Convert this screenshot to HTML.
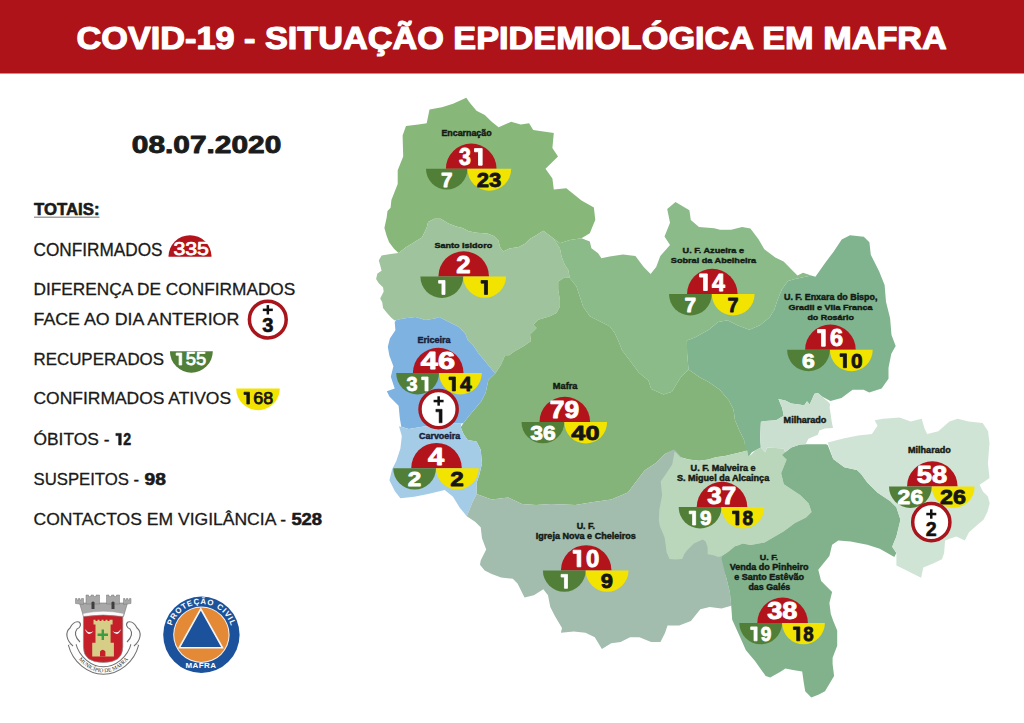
<!DOCTYPE html>
<html><head><meta charset="utf-8"><style>
html,body{margin:0;padding:0;background:#fff;width:1024px;height:723px;overflow:hidden}
svg{display:block;font-family:"Liberation Sans",sans-serif}
</style></head><body>
<svg width="1024" height="723" viewBox="0 0 1024 723">
<rect x="0" y="0" width="1024" height="723" fill="#fff"/>
<rect x="0" y="0" width="1024" height="73.5" fill="#ae1319"/>

<text x="76.6" y="49.4" font-size="32.27" font-weight="bold" fill="#fff" textLength="870.2" lengthAdjust="spacingAndGlyphs" stroke="#fff" stroke-width="1.20" stroke-linejoin="round">COVID-19 - SITUAÇÃO EPIDEMIOLÓGICA EM MAFRA</text>
<text x="131.8" y="153.0" font-size="24.27" font-weight="bold" fill="#1b1b1b" textLength="149.5" lengthAdjust="spacingAndGlyphs" stroke="#1b1b1b" stroke-width="0.90" stroke-linejoin="round">08.07.2020</text>
<text x="34.0" y="214.9" font-size="16.28" font-weight="bold" fill="#1b1b1b" textLength="65.5" lengthAdjust="spacingAndGlyphs" stroke="#1b1b1b" stroke-width="0.60" stroke-linejoin="round">TOTAIS:</text>
<rect x="34" y="216.6" width="65.5" height="1.2" fill="#8a8a8a"/>
<text x="33.5" y="255.9" font-size="17.44" font-weight="normal" fill="#1a1a1a" textLength="129.0" lengthAdjust="spacingAndGlyphs" stroke="#1a1a1a" stroke-width="0.30" stroke-linejoin="round">CONFIRMADOS</text>
<text x="33.5" y="295.2" font-size="16.72" font-weight="normal" fill="#1a1a1a" textLength="261.8" lengthAdjust="spacingAndGlyphs" stroke="#1a1a1a" stroke-width="0.30" stroke-linejoin="round">DIFERENÇA DE CONFIRMADOS</text>
<text x="33.5" y="324.7" font-size="16.72" font-weight="normal" fill="#1a1a1a" textLength="205.8" lengthAdjust="spacingAndGlyphs" stroke="#1a1a1a" stroke-width="0.30" stroke-linejoin="round">FACE AO DIA ANTERIOR</text>
<text x="33.5" y="364.9" font-size="16.72" font-weight="normal" fill="#1a1a1a" textLength="130.5" lengthAdjust="spacingAndGlyphs" stroke="#1a1a1a" stroke-width="0.30" stroke-linejoin="round">RECUPERADOS</text>
<text x="33.5" y="404.0" font-size="17.15" font-weight="normal" fill="#1a1a1a" textLength="197.6" lengthAdjust="spacingAndGlyphs" stroke="#1a1a1a" stroke-width="0.30" stroke-linejoin="round">CONFIRMADOS ATIVOS</text>
<text x="33.5" y="445.0" font-size="16.86" font-weight="normal" fill="#1a1a1a" textLength="76.0" lengthAdjust="spacingAndGlyphs" stroke="#1a1a1a" stroke-width="0.30" stroke-linejoin="round">ÓBITOS -</text>
<text x="115.30" y="445.00" font-size="16.86" font-weight="bold" fill="#1a1a1a" stroke="#1a1a1a" stroke-width="0.60" stroke-linejoin="round" textLength="15.70" lengthAdjust="spacingAndGlyphs"> 2</text>
<path d="M115.90,433.40 L121.24,433.40 L121.24,445.00 L118.68,445.00 L118.68,435.60 L115.90,435.60 Z" fill="#1a1a1a" stroke="#1a1a1a" stroke-width="0.60" stroke-linejoin="miter"/>
<text x="33.5" y="484.7" font-size="17.01" font-weight="normal" fill="#1a1a1a" textLength="105.7" lengthAdjust="spacingAndGlyphs" stroke="#1a1a1a" stroke-width="0.30" stroke-linejoin="round">SUSPEITOS -</text>
<text x="144.5" y="484.7" font-size="17.01" font-weight="bold" fill="#1a1a1a" textLength="21.3" lengthAdjust="spacingAndGlyphs" stroke="#1a1a1a" stroke-width="0.60" stroke-linejoin="round">98</text>
<text x="33.5" y="524.7" font-size="17.30" font-weight="normal" fill="#1a1a1a" textLength="252.6" lengthAdjust="spacingAndGlyphs" stroke="#1a1a1a" stroke-width="0.30" stroke-linejoin="round">CONTACTOS EM VIGILÂNCIA -</text>
<text x="291.4" y="524.7" font-size="17.30" font-weight="bold" fill="#1a1a1a" textLength="30.7" lengthAdjust="spacingAndGlyphs" stroke="#1a1a1a" stroke-width="0.60" stroke-linejoin="round">528</text>
<path d="M168.5,256.7 A21.5,21.5 0 0 1 211.5,256.7 Z" fill="#b3141c"/>
<text x="173.40" y="255.40" font-size="17.73" font-weight="normal" fill="#fff" stroke="#fff" stroke-width="0.75" stroke-linejoin="round" textLength="35.60" lengthAdjust="spacingAndGlyphs">335</text>
<path d="M169.9,351.2 A21.45,21.45 0 0 0 212.8,351.2 Z" fill="#527f38"/>
<text x="175.60" y="365.00" font-size="17.44" font-weight="normal" fill="#fff" stroke="#fff" stroke-width="0.75" stroke-linejoin="round" textLength="30.60" lengthAdjust="spacingAndGlyphs"> 55</text>
<path d="M176.20,353.00 L181.72,353.00 L181.72,365.00 L179.08,365.00 L179.08,355.28 L176.20,355.28 Z" fill="#fff" stroke="#fff" stroke-width="0.75" stroke-linejoin="miter"/>
<path d="M236.2,388.4 A21.8,21.8 0 0 0 279.8,388.4 Z" fill="#f3e300"/>
<text x="243.40" y="404.00" font-size="17.15" font-weight="normal" fill="#151515" stroke="#151515" stroke-width="0.75" stroke-linejoin="round" textLength="29.80" lengthAdjust="spacingAndGlyphs"> 68</text>
<path d="M244.00,392.20 L249.43,392.20 L249.43,404.00 L246.83,404.00 L246.83,394.44 L244.00,394.44 Z" fill="#151515" stroke="#151515" stroke-width="0.75" stroke-linejoin="miter"/>
<circle cx="267.8" cy="319.6" r="18.4" fill="#fff" stroke="#a8151c" stroke-width="3.5"/>
<rect x="262.8" y="308.6" width="10" height="2.5" fill="#111"/>
<rect x="266.6" y="305.1" width="2.5" height="9.4" fill="#111"/>
<text x="267.8" y="331.6" font-size="20.20" font-weight="bold" fill="#111" stroke="#111" stroke-width="0.6" text-anchor="middle">3</text>
<polygon points="384.4,228.1 386.7,217.2 387.5,210.9 390.6,207.8 391.4,200.0 397.7,184.0 397.7,170.2 403.2,156.4 402.6,135.6 406.0,126.0 418.4,124.6 426.7,123.2 429.5,109.4 441.9,107.2 453.0,103.8 466.3,97.7 469.6,102.4 476.5,110.7 484.8,114.9 491.7,121.8 498.6,127.3 511.1,121.8 520.8,124.6 529.1,123.2 533.2,130.1 540.0,130.9 553.8,132.9 552.4,148.1 558.0,156.4 545.5,168.8 552.4,178.5 553.8,189.6 566.3,188.2 581.5,200.6 593.9,207.6 595.3,220.0 593.9,223.3 589.8,233.3 581.5,238.3 569.8,239.9 559.9,243.3 553.2,238.3 543.3,230.8 535.0,235.9 529.7,239.1 525.0,243.8 518.8,246.9 509.4,248.4 503.1,251.6 500.0,246.9 498.4,240.6 493.8,235.9 487.5,233.6 476.6,232.8 468.8,231.3 462.5,228.1 456.3,226.6 448.4,223.4 440.6,218.8 434.4,218.8 428.1,221.9 426.6,228.1 421.9,237.5 414.1,242.2 406.3,246.9 398.4,253.1 393.8,248.4 389.1,242.2 386.7,235.9" fill="#87b87a"/>
<polygon points="381.6,255.5 390.6,253.9 398.4,253.1 406.3,246.9 414.1,242.2 421.9,237.5 426.6,228.1 428.1,221.9 434.4,218.8 440.6,218.8 448.4,223.4 456.3,226.6 462.5,228.1 468.8,231.3 476.6,232.8 487.5,233.6 493.8,235.9 498.4,240.6 500.0,246.9 503.1,251.6 509.4,248.4 518.8,246.9 525.0,243.8 529.7,239.1 535.0,235.9 543.3,230.8 553.2,238.3 559.9,248.2 561.5,256.5 564.9,264.9 568.2,269.8 569.8,278.1 564.9,277.3 558.2,281.5 558.2,289.8 559.9,299.7 559.9,306.4 556.5,313.0 549.9,316.3 538.3,319.7 533.3,324.7 536.6,328.0 530.0,334.6 531.0,341.0 523.5,346.2 513.8,351.7 509.2,355.2 505.1,355.2 500.9,364.9 495.4,373.2 492.6,370.4 485.7,362.1 478.8,353.8 473.2,345.5 467.7,340.0 465.4,333.7 458.5,326.8 447.5,321.3 439.2,317.1 435.0,318.5 425.3,319.9 415.6,317.1 403.2,318.5 394.7,320.5 391.3,317.7 386.4,312.2 383.0,308.1 382.3,302.5 380.2,298.4 383.7,291.5 383.0,287.3 378.8,283.2 376.1,279.0 377.4,273.5 381.6,270.7 380.2,265.2 378.8,260.4" fill="#9fc39c"/>
<polygon points="553.2,238.3 559.9,243.3 569.8,239.9 581.5,238.3 589.8,241.6 591.4,248.2 598.1,253.2 601.4,258.2 609.7,256.5 623.0,254.6 635.4,256.0 643.7,267.0 650.6,274.0 656.2,267.0 660.3,256.0 670.0,244.9 664.5,236.6 670.0,222.8 667.2,208.9 675.5,202.0 689.4,210.3 690.8,220.0 699.0,226.9 714.3,228.3 720.0,229.8 731.1,229.8 742.1,227.0 750.4,228.4 758.7,239.5 764.3,249.2 775.3,257.5 783.6,261.6 790.5,268.5 797.5,275.4 803.0,272.7 811.3,275.4 795.0,279.0 788.0,281.0 782.0,289.0 777.5,300.0 774.4,309.4 769.7,317.2 760.3,325.0 749.4,329.7 736.9,325.0 727.5,320.3 718.1,321.9 708.8,329.7 694.7,337.5 686.9,340.6 687.1,353.0 688.5,369.6 680.2,377.9 671.9,391.7 663.6,394.5 651.2,389.0 648.4,380.6 638.7,372.4 630.4,361.3 622.1,350.2 618.0,340.0 614.7,333.0 609.7,326.3 599.7,321.3 589.8,316.3 583.1,306.4 579.8,296.4 576.5,286.4 569.8,278.1 568.2,269.8 564.9,264.9 561.5,256.5 559.9,248.2" fill="#8bbb88"/>
<polygon points="811.3,275.4 815.4,276.8 825.1,263.0 833.4,251.9 841.7,239.5 850.0,235.3 863.8,236.7 869.4,242.2 870.8,254.7 879.1,271.3 884.6,285.1 886.0,301.7 890.1,318.3 891.5,334.9 895.7,346.0 891.3,353.8 888.5,367.7 888.5,378.7 881.6,388.4 869.2,392.6 863.6,389.8 852.6,389.8 841.5,398.1 830.4,400.9 822.0,396.4 817.9,393.0 814.5,393.7 809.7,404.6 807.0,401.2 804.3,405.3 798.8,404.6 791.3,403.5 785.2,400.4 778.4,398.9 782.2,408.0 783.7,415.7 776.1,420.2 765.4,421.0 760.9,421.8 760.1,438.5 760.9,447.6 751.8,452.2 748.7,456.8 745.7,455.2 744.1,440.0 739.6,430.9 735.0,420.2 733.5,409.6 728.9,400.4 719.8,389.8 709.1,382.2 700.0,377.6 688.5,369.6 687.1,353.0 686.9,340.6 694.7,337.5 708.8,329.7 718.1,321.9 727.5,320.3 736.9,325.0 749.4,329.7 760.3,325.0 769.7,317.2 774.4,309.4 777.5,300.0 782.0,289.0 788.0,281.0 795.0,279.0" fill="#80b48f"/>
<polygon points="569.8,278.1 576.5,286.4 579.8,296.4 583.1,306.4 589.8,316.3 599.7,321.3 609.7,326.3 614.7,333.0 618.0,340.0 622.1,350.2 630.4,361.3 638.7,372.4 648.4,380.6 651.2,389.0 663.6,394.5 671.9,391.7 680.2,377.9 688.5,369.6 700.0,377.6 709.1,382.2 719.8,389.8 728.9,400.4 733.5,409.6 735.0,420.2 739.6,430.9 744.1,440.0 745.7,449.1 747.3,450.2 743.8,451.4 734.4,453.8 725.0,456.1 715.6,457.3 708.6,459.6 699.2,460.8 688.7,459.6 680.5,457.3 675.8,452.6 673.4,450.2 665.2,453.8 655.9,463.0 644.5,470.4 636.2,481.5 627.9,492.6 611.3,499.5 591.9,502.2 575.3,505.0 564.0,504.5 551.0,504.0 536.0,505.0 522.0,504.0 508.3,497.5 491.7,499.6 476.5,494.0 476.5,483.0 479.3,474.7 482.0,463.6 480.7,449.8 476.5,441.5 467.7,440.0 463.5,434.1 460.8,427.2 463.5,423.0 467.7,417.5 474.6,409.2 481.5,400.9 485.7,392.6 488.4,380.1 495.4,373.2 500.9,364.9 505.1,355.2 509.2,355.2 513.8,351.7 523.5,346.2 531.0,341.0 530.0,334.6 536.6,328.0 533.3,324.7 538.3,319.7 549.9,316.3 556.5,313.0 559.9,306.4 559.9,299.7 558.2,289.8 558.2,281.5 564.9,277.3" fill="#84b47a"/>
<polygon points="396.3,319.9 403.2,318.5 415.6,317.1 425.3,319.9 435.0,318.5 439.2,317.1 447.5,321.3 458.5,326.8 465.4,333.7 467.7,340.0 473.2,345.5 478.8,353.8 485.7,362.1 492.6,370.4 495.4,373.2 488.4,380.1 485.7,392.6 481.5,400.9 474.6,409.2 467.7,417.5 463.5,423.0 461.3,423.5 453.0,423.5 441.9,427.7 425.3,426.3 408.7,429.0 401.3,426.7 399.9,418.8 398.6,405.7 389.4,396.5 386.8,391.2 394.7,388.6 390.8,376.8 393.4,366.3 389.4,355.8 387.8,346.8 389.9,338.5 392.7,334.3 395.4,330.2 394.7,321.9" fill="#7eb3e1"/>
<polygon points="399.0,426.3 408.7,429.0 425.3,426.3 441.9,427.7 453.0,423.5 461.3,423.5 460.8,427.2 463.5,434.1 467.7,440.0 476.5,441.5 480.7,449.8 482.0,463.6 479.3,474.7 476.5,483.0 476.5,494.0 472.4,502.4 466.8,516.2 459.9,507.9 453.0,496.8 444.7,489.9 428.1,494.0 414.3,496.8 400.4,498.2 394.9,491.3 389.4,480.2 392.1,469.2 396.3,460.9 400.4,448.4 401.8,436.0" fill="#a5cce6"/>
<polygon points="466.8,516.2 472.4,502.4 476.5,494.0 491.7,499.6 508.3,497.5 522.0,504.0 536.0,505.0 551.0,504.0 564.0,504.5 575.3,505.0 591.9,502.2 611.3,499.5 627.9,492.6 636.2,481.5 644.5,470.4 655.9,463.0 665.2,453.8 673.4,449.5 676.0,451.0 700.0,480.0 720.0,520.0 742.0,556.0 725.6,575.3 729.8,591.9 731.2,605.8 721.5,608.5 709.7,606.9 700.3,609.2 690.9,620.9 679.2,625.6 667.5,625.6 665.1,632.7 660.5,642.0 651.1,642.0 639.4,637.3 630.0,637.3 620.6,642.0 611.2,643.2 601.9,649.1 594.8,637.3 585.5,632.7 573.7,631.5 560.9,632.7 562.0,628.0 555.0,616.2 550.3,606.9 548.0,595.2 543.3,589.3 533.9,595.2 524.5,597.5 519.8,588.1 517.5,583.4 512.8,578.7 501.1,577.6 491.7,574.1 484.7,570.5 480.0,564.7 480.7,560.4 486.2,549.4 482.0,538.3 480.7,527.2 475.1,521.7" fill="#a2bcae"/>
<polygon points="674.6,451.4 675.8,452.6 680.5,457.3 688.7,459.6 699.2,460.8 708.6,459.6 715.6,457.3 725.0,456.1 734.4,453.8 743.8,451.4 747.3,450.2 748.4,456.1 750.8,454.9 755.5,450.2 760.9,447.6 765.4,452.2 767.0,447.6 783.7,448.4 785.2,452.2 786.6,459.4 781.1,473.2 783.8,484.3 800.4,495.3 808.7,503.6 811.5,511.9 806.0,517.5 794.9,523.0 783.8,531.3 764.5,542.4 750.6,545.1 742.8,543.4 735.0,546.4 728.1,552.2 722.3,556.1 718.4,557.1 713.5,555.2 707.6,554.2 707.6,547.3 705.7,541.5 702.7,539.5 693.9,543.4 687.1,550.3 684.2,554.2 682.2,559.1 675.4,559.6 669.5,559.1 666.6,552.2 665.6,544.4 664.6,537.6 659.8,525.9 658.8,520.0 659.4,509.2 662.1,495.3 660.7,481.5 665.2,475.0 672.3,464.3" fill="#bad7bc"/>
<polygon points="782.2,455.0 785.2,452.2 791.3,447.6 800.0,444.6 805.6,444.3 826.0,444.3 827.7,445.1 833.2,458.9 844.3,467.2 857.0,470.0 861.1,474.1 867.3,482.4 877.7,492.8 890.1,501.1 896.4,507.3 900.5,519.8 896.4,536.4 892.2,546.7 896.4,553.0 894.3,557.1 879.8,548.8 867.3,544.7 850.7,541.5 838.3,540.5 832.1,544.7 829.4,556.0 818.3,569.8 821.1,580.9 832.1,591.9 829.4,603.0 830.8,614.0 833.4,621.3 837.2,630.4 837.2,645.7 832.6,657.8 832.6,663.9 834.1,676.1 825.0,691.3 818.9,694.4 811.3,697.4 805.2,691.3 803.7,682.2 802.2,671.5 793.0,670.0 785.4,668.5 780.9,671.5 770.2,677.6 765.7,676.1 755.0,660.9 745.9,650.2 739.8,636.5 732.2,619.8 731.2,605.8 729.8,591.9 725.6,575.3 721.5,558.7 722.3,556.1 728.1,552.2 735.0,546.4 742.8,543.4 750.6,545.1 764.5,542.4 783.8,531.3 794.9,523.0 806.0,517.5 811.5,511.9 808.7,503.6 800.4,495.3 783.8,484.3 781.1,473.2 786.6,459.4" fill="#82b28c"/>
<polygon points="778.4,398.9 785.2,400.4 791.3,403.5 798.8,404.6 804.3,405.3 807.0,401.2 809.7,404.6 814.5,393.7 817.9,393.0 822.0,396.4 828.9,402.6 830.2,404.6 829.6,407.3 831.6,421.0 833.0,427.9 824.8,428.5 819.3,430.6 817.9,434.7 808.4,438.8 805.6,444.3 800.0,444.6 791.3,447.6 785.2,452.2 783.7,448.4 767.0,447.6 765.4,452.2 762.4,449.1 760.9,447.6 760.1,438.5 760.9,421.8 765.4,421.0 776.1,420.2 783.7,415.7 782.2,408.0 779.1,400.4" fill="#cadfcf"/>
<polygon points="827.7,442.4 844.3,438.2 858.1,435.4 871.9,434.0 877.5,425.8 874.7,420.2 883.0,418.8 899.6,417.5 910.7,421.6 921.7,418.8 924.5,428.5 927.2,434.0 938.3,431.3 949.4,421.6 957.7,418.8 968.7,421.6 982.6,423.0 988.1,431.3 989.5,443.3 987.9,463.2 989.5,478.1 984.6,481.5 979.6,484.8 982.9,491.4 987.9,496.4 989.7,503.2 987.6,511.5 983.5,519.8 977.2,525.0 969.0,532.2 964.8,540.5 956.5,536.4 950.3,538.4 945.1,540.5 944.1,553.0 942.0,559.2 933.7,563.3 923.3,567.5 921.2,577.8 913.0,573.7 904.7,569.5 896.4,565.4 896.4,553.0 892.2,546.7 896.4,536.4 900.5,519.8 896.4,507.3 890.1,501.1 877.7,492.8 867.3,482.4 861.1,474.1 857.0,470.0 844.3,467.2 833.2,458.9" fill="#d0e4d6"/>
<text x="441.4" y="136.2" font-size="8.29" font-weight="bold" fill="#141a14" textLength="50.2" lengthAdjust="spacingAndGlyphs" stroke="#141a14" stroke-width="0.42" stroke-linejoin="round">Encarnação</text>
<text x="434.4" y="247.7" font-size="7.99" font-weight="bold" fill="#141a14" textLength="57.8" lengthAdjust="spacingAndGlyphs" stroke="#141a14" stroke-width="0.42" stroke-linejoin="round">Santo Isidoro</text>
<text x="682.6" y="253.2" font-size="7.85" font-weight="bold" fill="#141a14" textLength="61.4" lengthAdjust="spacingAndGlyphs" stroke="#141a14" stroke-width="0.42" stroke-linejoin="round">U. F. Azueira e</text>
<text x="670.8" y="263.3" font-size="7.99" font-weight="bold" fill="#141a14" textLength="85.4" lengthAdjust="spacingAndGlyphs" stroke="#141a14" stroke-width="0.42" stroke-linejoin="round">Sobral da Abelheira</text>
<text x="784.0" y="299.6" font-size="8.14" font-weight="bold" fill="#141a14" textLength="93.4" lengthAdjust="spacingAndGlyphs" stroke="#141a14" stroke-width="0.42" stroke-linejoin="round">U. F. Enxara do Bispo,</text>
<text x="788.5" y="309.7" font-size="7.99" font-weight="bold" fill="#141a14" textLength="84.1" lengthAdjust="spacingAndGlyphs" stroke="#141a14" stroke-width="0.42" stroke-linejoin="round">Gradil e Vila Franca</text>
<text x="807.4" y="319.7" font-size="7.99" font-weight="bold" fill="#141a14" textLength="46.5" lengthAdjust="spacingAndGlyphs" stroke="#141a14" stroke-width="0.42" stroke-linejoin="round">do Rosário</text>
<text x="417.4" y="343.2" font-size="8.14" font-weight="bold" fill="#18203a" textLength="33.1" lengthAdjust="spacingAndGlyphs" stroke="#18203a" stroke-width="0.42" stroke-linejoin="round">Ericeira</text>
<text x="419.0" y="439.3" font-size="8.14" font-weight="bold" fill="#18203a" textLength="41.2" lengthAdjust="spacingAndGlyphs" stroke="#18203a" stroke-width="0.42" stroke-linejoin="round">Carvoeira</text>
<text x="552.8" y="388.6" font-size="8.29" font-weight="bold" fill="#141a14" textLength="24.7" lengthAdjust="spacingAndGlyphs" stroke="#141a14" stroke-width="0.42" stroke-linejoin="round">Mafra</text>
<text x="783.6" y="423.0" font-size="8.14" font-weight="bold" fill="#141a14" textLength="42.8" lengthAdjust="spacingAndGlyphs" stroke="#141a14" stroke-width="0.42" stroke-linejoin="round">Milharado</text>
<text x="908.0" y="452.9" font-size="8.29" font-weight="bold" fill="#141a14" textLength="42.8" lengthAdjust="spacingAndGlyphs" stroke="#141a14" stroke-width="0.42" stroke-linejoin="round">Milharado</text>
<text x="690.6" y="470.6" font-size="8.14" font-weight="bold" fill="#141a14" textLength="64.9" lengthAdjust="spacingAndGlyphs" stroke="#141a14" stroke-width="0.42" stroke-linejoin="round">U. F. Malveira e</text>
<text x="676.9" y="480.8" font-size="8.14" font-weight="bold" fill="#141a14" textLength="92.3" lengthAdjust="spacingAndGlyphs" stroke="#141a14" stroke-width="0.42" stroke-linejoin="round">S. Miguel da Alcainça</text>
<text x="576.7" y="528.7" font-size="8.14" font-weight="bold" fill="#141a14" textLength="18.3" lengthAdjust="spacingAndGlyphs" stroke="#141a14" stroke-width="0.42" stroke-linejoin="round">U. F.</text>
<text x="535.8" y="539.2" font-size="8.14" font-weight="bold" fill="#141a14" textLength="100.1" lengthAdjust="spacingAndGlyphs" stroke="#141a14" stroke-width="0.42" stroke-linejoin="round">Igreja Nova e Cheleiros</text>
<text x="759.8" y="559.9" font-size="7.99" font-weight="bold" fill="#141a14" textLength="18.3" lengthAdjust="spacingAndGlyphs" stroke="#141a14" stroke-width="0.42" stroke-linejoin="round">U. F.</text>
<text x="729.7" y="570.0" font-size="8.14" font-weight="bold" fill="#141a14" textLength="78.8" lengthAdjust="spacingAndGlyphs" stroke="#141a14" stroke-width="0.42" stroke-linejoin="round">Venda do Pinheiro</text>
<text x="734.2" y="580.0" font-size="8.14" font-weight="bold" fill="#141a14" textLength="69.8" lengthAdjust="spacingAndGlyphs" stroke="#141a14" stroke-width="0.42" stroke-linejoin="round">e Santo Estêvão</text>
<text x="748.4" y="590.0" font-size="8.14" font-weight="bold" fill="#141a14" textLength="41.9" lengthAdjust="spacingAndGlyphs" stroke="#141a14" stroke-width="0.42" stroke-linejoin="round">das Galés</text>
<path d="M445.9,168.8 A25.3,25.3 0 0 1 496.5,168.8 Z" fill="#b3141c"/>
<path d="M426.0,168.8 A20.7,20.7 0 0 0 467.4,168.8 Z" fill="#527f38"/>
<path d="M467.4,168.8 A21.9,21.9 0 0 0 511.2,168.8 Z" fill="#f3e300"/>
<text x="459.05" y="165.20" font-size="24.13" font-weight="bold" fill="#fff" stroke="#fff" stroke-width="0.90" stroke-linejoin="round" textLength="23.70" lengthAdjust="spacingAndGlyphs">3 </text>
<path d="M474.51,148.60 L482.15,148.60 L482.15,165.20 L478.50,165.20 L478.50,151.75 L474.51,151.75 Z" fill="#fff" stroke="#fff" stroke-width="0.90" stroke-linejoin="miter"/>
<text x="440.95" y="186.70" font-size="20.20" font-weight="bold" fill="#fff" stroke="#fff" stroke-width="0.80" stroke-linejoin="round" textLength="11.50" lengthAdjust="spacingAndGlyphs">7</text>
<text x="476.75" y="186.70" font-size="20.20" font-weight="bold" fill="#151515" stroke="#151515" stroke-width="0.80" stroke-linejoin="round" textLength="24.50" lengthAdjust="spacingAndGlyphs">23</text>
<path d="M438.4,276.5 A25.3,25.3 0 0 1 489.0,276.5 Z" fill="#b3141c"/>
<path d="M420.4,276.5 A21.4,21.4 0 0 0 463.2,276.5 Z" fill="#527f38"/>
<path d="M463.2,276.5 A21.4,21.4 0 0 0 506.0,276.5 Z" fill="#f3e300"/>
<text x="456.25" y="272.90" font-size="24.13" font-weight="bold" fill="#fff" stroke="#fff" stroke-width="0.90" stroke-linejoin="round" textLength="14.30" lengthAdjust="spacingAndGlyphs">2</text>
<text x="437.80" y="294.40" font-size="20.20" font-weight="bold" fill="#fff" stroke="#fff" stroke-width="0.80" stroke-linejoin="round" textLength="8.00" lengthAdjust="spacingAndGlyphs"> </text>
<path d="M438.60,280.50 L445.00,280.50 L445.00,294.40 L441.94,294.40 L441.94,283.14 L438.60,283.14 Z" fill="#fff" stroke="#fff" stroke-width="0.80" stroke-linejoin="miter"/>
<text x="480.50" y="294.40" font-size="20.20" font-weight="bold" fill="#151515" stroke="#151515" stroke-width="0.80" stroke-linejoin="round" textLength="7.60" lengthAdjust="spacingAndGlyphs"> </text>
<path d="M481.10,280.50 L487.50,280.50 L487.50,294.40 L484.44,294.40 L484.44,283.14 L481.10,283.14 Z" fill="#151515" stroke="#151515" stroke-width="0.80" stroke-linejoin="miter"/>
<path d="M687.0,294.1 A25.3,25.3 0 0 1 737.6,294.1 Z" fill="#b3141c"/>
<path d="M669.0,294.1 A21.4,21.4 0 0 0 711.8,294.1 Z" fill="#527f38"/>
<path d="M711.8,294.1 A21.4,21.4 0 0 0 754.6,294.1 Z" fill="#f3e300"/>
<text x="699.05" y="290.50" font-size="24.13" font-weight="bold" fill="#fff" stroke="#fff" stroke-width="0.90" stroke-linejoin="round" textLength="25.90" lengthAdjust="spacingAndGlyphs"> 4</text>
<path d="M699.65,273.90 L707.29,273.90 L707.29,290.50 L703.63,290.50 L703.63,277.05 L699.65,277.05 Z" fill="#fff" stroke="#fff" stroke-width="0.90" stroke-linejoin="miter"/>
<text x="684.60" y="312.00" font-size="20.20" font-weight="bold" fill="#fff" stroke="#fff" stroke-width="0.80" stroke-linejoin="round" textLength="11.60" lengthAdjust="spacingAndGlyphs">7</text>
<text x="727.40" y="312.00" font-size="20.20" font-weight="bold" fill="#151515" stroke="#151515" stroke-width="0.80" stroke-linejoin="round" textLength="11.00" lengthAdjust="spacingAndGlyphs">7</text>
<path d="M805.1,349.8 A25.3,25.3 0 0 1 855.7,349.8 Z" fill="#b3141c"/>
<path d="M787.1,349.8 A21.4,21.4 0 0 0 829.9,349.8 Z" fill="#527f38"/>
<path d="M829.9,349.8 A21.4,21.4 0 0 0 872.7,349.8 Z" fill="#f3e300"/>
<text x="817.00" y="346.20" font-size="24.13" font-weight="bold" fill="#fff" stroke="#fff" stroke-width="0.90" stroke-linejoin="round" textLength="26.20" lengthAdjust="spacingAndGlyphs"> 6</text>
<path d="M817.60,329.60 L825.24,329.60 L825.24,346.20 L821.58,346.20 L821.58,332.75 L817.60,332.75 Z" fill="#fff" stroke="#fff" stroke-width="0.90" stroke-linejoin="miter"/>
<text x="802.10" y="367.70" font-size="20.20" font-weight="bold" fill="#fff" stroke="#fff" stroke-width="0.80" stroke-linejoin="round" textLength="12.80" lengthAdjust="spacingAndGlyphs">6</text>
<text x="839.45" y="367.70" font-size="20.20" font-weight="bold" fill="#151515" stroke="#151515" stroke-width="0.80" stroke-linejoin="round" textLength="23.10" lengthAdjust="spacingAndGlyphs"> 0</text>
<path d="M840.05,353.80 L846.44,353.80 L846.44,367.70 L843.39,367.70 L843.39,356.44 L840.05,356.44 Z" fill="#151515" stroke="#151515" stroke-width="0.80" stroke-linejoin="miter"/>
<path d="M412.9,373.0 A25.3,25.3 0 0 1 463.5,373.0 Z" fill="#b3141c"/>
<path d="M396.2,373.0 A21.4,21.4 0 0 0 439.0,373.0 Z" fill="#527f38"/>
<path d="M439.0,373.0 A21.4,21.4 0 0 0 481.8,373.0 Z" fill="#f3e300"/>
<text x="420.80" y="369.40" font-size="24.13" font-weight="bold" fill="#fff" stroke="#fff" stroke-width="0.90" stroke-linejoin="round" textLength="34.20" lengthAdjust="spacingAndGlyphs">46</text>
<text x="406.55" y="390.90" font-size="20.20" font-weight="bold" fill="#fff" stroke="#fff" stroke-width="0.80" stroke-linejoin="round" textLength="22.10" lengthAdjust="spacingAndGlyphs">3 </text>
<path d="M421.66,377.00 L428.05,377.00 L428.05,390.90 L424.99,390.90 L424.99,379.64 L421.66,379.64 Z" fill="#fff" stroke="#fff" stroke-width="0.80" stroke-linejoin="miter"/>
<text x="448.40" y="390.90" font-size="20.20" font-weight="bold" fill="#151515" stroke="#151515" stroke-width="0.80" stroke-linejoin="round" textLength="23.40" lengthAdjust="spacingAndGlyphs"> 4</text>
<path d="M449.00,377.00 L455.39,377.00 L455.39,390.90 L452.34,390.90 L452.34,379.64 L449.00,379.64 Z" fill="#151515" stroke="#151515" stroke-width="0.80" stroke-linejoin="miter"/>
<path d="M411.2,468.2 A25.3,25.3 0 0 1 461.8,468.2 Z" fill="#b3141c"/>
<path d="M393.2,468.2 A21.4,21.4 0 0 0 436.0,468.2 Z" fill="#527f38"/>
<path d="M436.0,468.2 A21.4,21.4 0 0 0 478.8,468.2 Z" fill="#f3e300"/>
<text x="428.10" y="464.60" font-size="24.13" font-weight="bold" fill="#fff" stroke="#fff" stroke-width="0.90" stroke-linejoin="round" textLength="16.20" lengthAdjust="spacingAndGlyphs">4</text>
<text x="407.85" y="486.10" font-size="20.20" font-weight="bold" fill="#fff" stroke="#fff" stroke-width="0.80" stroke-linejoin="round" textLength="13.50" lengthAdjust="spacingAndGlyphs">2</text>
<text x="450.35" y="486.10" font-size="20.20" font-weight="bold" fill="#151515" stroke="#151515" stroke-width="0.80" stroke-linejoin="round" textLength="13.50" lengthAdjust="spacingAndGlyphs">2</text>
<path d="M539.5,422.0 A25.3,25.3 0 0 1 590.1,422.0 Z" fill="#b3141c"/>
<path d="M521.5,422.0 A21.4,21.4 0 0 0 564.3,422.0 Z" fill="#527f38"/>
<path d="M564.3,422.0 A21.4,21.4 0 0 0 607.1,422.0 Z" fill="#f3e300"/>
<text x="549.80" y="418.40" font-size="24.13" font-weight="bold" fill="#fff" stroke="#fff" stroke-width="0.90" stroke-linejoin="round" textLength="29.40" lengthAdjust="spacingAndGlyphs">79</text>
<text x="530.20" y="439.90" font-size="20.20" font-weight="bold" fill="#fff" stroke="#fff" stroke-width="0.80" stroke-linejoin="round" textLength="25.40" lengthAdjust="spacingAndGlyphs">36</text>
<text x="571.35" y="439.90" font-size="20.20" font-weight="bold" fill="#151515" stroke="#151515" stroke-width="0.80" stroke-linejoin="round" textLength="28.10" lengthAdjust="spacingAndGlyphs">40</text>
<path d="M907.0,486.5 A25.3,25.3 0 0 1 957.6,486.5 Z" fill="#b3141c"/>
<path d="M889.0,486.5 A21.4,21.4 0 0 0 931.8,486.5 Z" fill="#527f38"/>
<path d="M931.8,486.5 A21.4,21.4 0 0 0 974.6,486.5 Z" fill="#f3e300"/>
<text x="916.80" y="482.90" font-size="24.13" font-weight="bold" fill="#fff" stroke="#fff" stroke-width="0.90" stroke-linejoin="round" textLength="30.40" lengthAdjust="spacingAndGlyphs">58</text>
<text x="897.60" y="504.40" font-size="20.20" font-weight="bold" fill="#fff" stroke="#fff" stroke-width="0.80" stroke-linejoin="round" textLength="25.60" lengthAdjust="spacingAndGlyphs">26</text>
<text x="939.95" y="504.40" font-size="20.20" font-weight="bold" fill="#151515" stroke="#151515" stroke-width="0.80" stroke-linejoin="round" textLength="25.90" lengthAdjust="spacingAndGlyphs">26</text>
<path d="M696.7,507.1 A25.3,25.3 0 0 1 747.3,507.1 Z" fill="#b3141c"/>
<path d="M678.7,507.1 A21.4,21.4 0 0 0 721.5,507.1 Z" fill="#527f38"/>
<path d="M721.5,507.1 A21.4,21.4 0 0 0 764.3,507.1 Z" fill="#f3e300"/>
<text x="707.25" y="503.50" font-size="24.13" font-weight="bold" fill="#fff" stroke="#fff" stroke-width="0.90" stroke-linejoin="round" textLength="28.90" lengthAdjust="spacingAndGlyphs">37</text>
<text x="688.65" y="525.00" font-size="20.20" font-weight="bold" fill="#fff" stroke="#fff" stroke-width="0.80" stroke-linejoin="round" textLength="22.90" lengthAdjust="spacingAndGlyphs"> 9</text>
<path d="M689.25,511.10 L695.64,511.10 L695.64,525.00 L692.59,525.00 L692.59,513.74 L689.25,513.74 Z" fill="#fff" stroke="#fff" stroke-width="0.80" stroke-linejoin="miter"/>
<text x="731.95" y="525.00" font-size="20.20" font-weight="bold" fill="#151515" stroke="#151515" stroke-width="0.80" stroke-linejoin="round" textLength="21.30" lengthAdjust="spacingAndGlyphs"> 8</text>
<path d="M732.55,511.10 L738.94,511.10 L738.94,525.00 L735.89,525.00 L735.89,513.74 L732.55,513.74 Z" fill="#151515" stroke="#151515" stroke-width="0.80" stroke-linejoin="miter"/>
<path d="M560.9,570.4 A25.3,25.3 0 0 1 611.5,570.4 Z" fill="#b3141c"/>
<path d="M542.9,570.4 A21.4,21.4 0 0 0 585.7,570.4 Z" fill="#527f38"/>
<path d="M585.7,570.4 A21.4,21.4 0 0 0 628.5,570.4 Z" fill="#f3e300"/>
<text x="572.55" y="566.80" font-size="24.13" font-weight="bold" fill="#fff" stroke="#fff" stroke-width="0.90" stroke-linejoin="round" textLength="26.70" lengthAdjust="spacingAndGlyphs"> 0</text>
<path d="M573.15,550.20 L580.79,550.20 L580.79,566.80 L577.13,566.80 L577.13,553.35 L573.15,553.35 Z" fill="#fff" stroke="#fff" stroke-width="0.90" stroke-linejoin="miter"/>
<text x="560.60" y="588.30" font-size="20.20" font-weight="bold" fill="#fff" stroke="#fff" stroke-width="0.80" stroke-linejoin="round" textLength="7.40" lengthAdjust="spacingAndGlyphs"> </text>
<path d="M561.10,574.40 L567.50,574.40 L567.50,588.30 L564.44,588.30 L564.44,577.04 L561.10,577.04 Z" fill="#fff" stroke="#fff" stroke-width="0.80" stroke-linejoin="miter"/>
<text x="600.70" y="588.30" font-size="20.20" font-weight="bold" fill="#151515" stroke="#151515" stroke-width="0.80" stroke-linejoin="round" textLength="12.20" lengthAdjust="spacingAndGlyphs">9</text>
<path d="M757.3,622.9 A25.3,25.3 0 0 1 807.9,622.9 Z" fill="#b3141c"/>
<path d="M739.3,622.9 A21.4,21.4 0 0 0 782.1,622.9 Z" fill="#527f38"/>
<path d="M782.1,622.9 A21.4,21.4 0 0 0 824.9,622.9 Z" fill="#f3e300"/>
<text x="767.20" y="619.30" font-size="24.13" font-weight="bold" fill="#fff" stroke="#fff" stroke-width="0.90" stroke-linejoin="round" textLength="30.20" lengthAdjust="spacingAndGlyphs">38</text>
<text x="750.10" y="640.80" font-size="20.20" font-weight="bold" fill="#fff" stroke="#fff" stroke-width="0.80" stroke-linejoin="round" textLength="21.20" lengthAdjust="spacingAndGlyphs"> 9</text>
<path d="M750.70,626.90 L757.09,626.90 L757.09,640.80 L754.04,640.80 L754.04,629.54 L750.70,629.54 Z" fill="#fff" stroke="#fff" stroke-width="0.80" stroke-linejoin="miter"/>
<text x="792.80" y="640.80" font-size="20.20" font-weight="bold" fill="#151515" stroke="#151515" stroke-width="0.80" stroke-linejoin="round" textLength="20.80" lengthAdjust="spacingAndGlyphs"> 8</text>
<path d="M793.40,626.90 L799.79,626.90 L799.79,640.80 L796.74,640.80 L796.74,629.54 L793.40,629.54 Z" fill="#151515" stroke="#151515" stroke-width="0.80" stroke-linejoin="miter"/>
<circle cx="438.6" cy="409.2" r="18.6" fill="#fff" stroke="#a8151c" stroke-width="3.5"/>
<rect x="433.6" y="399.8" width="10" height="2.5" fill="#111"/>
<rect x="437.4" y="396.3" width="2.5" height="9.4" fill="#111"/>
<path d="M435.89,409.30 L442.10,409.30 L442.10,422.80 L439.13,422.80 L439.13,411.87 L435.89,411.87 Z" fill="#111" stroke="#111" stroke-width="0.50" stroke-linejoin="miter"/>
<circle cx="931.3" cy="522.2" r="18.6" fill="#fff" stroke="#a8151c" stroke-width="3.5"/>
<rect x="926.3" y="512.8" width="10" height="2.5" fill="#111"/>
<rect x="930.0" y="509.3" width="2.5" height="9.4" fill="#111"/>
<text x="931.3" y="535.8" font-size="19.62" font-weight="bold" fill="#111" stroke="#111" stroke-width="0.6" text-anchor="middle">2</text>

<g id="coat">
  <path d="M72,644 C76,660 90,670.5 103.4,670.5 C117,670.5 131,660 135,644" fill="none" stroke="#6f6f6f" stroke-width="8.6"/>
  <path d="M72,644 C76,660 90,670.5 103.4,670.5 C117,670.5 131,660 135,644" fill="none" stroke="#fcfcfc" stroke-width="6.6"/>
  <path d="M73,646 C66,640 65,632 70,628 C72,624 75,621 79,622 C82,624 80,628 77,629 C74,633 76,638 80,642" fill="#fcfcfc" stroke="#6f6f6f" stroke-width="1.1"/>
  <path d="M134,646 C141,640 142,632 137,628 C135,624 132,621 128,622 C125,624 127,628 130,629 C133,633 131,638 127,642" fill="#fcfcfc" stroke="#6f6f6f" stroke-width="1.1"/>
  <path id="ribpath" d="M74,651 C80,665 92,672.3 103.4,672.3 C115,672.3 127,665 133,651" fill="none"/>
  <text font-size="5.4" fill="#222" font-family="Liberation Serif, serif"><textPath href="#ribpath" startOffset="50%" text-anchor="middle" textLength="58" lengthAdjust="spacingAndGlyphs">MUNICÍPIO DE MAFRA</textPath></text>
  <path d="M79.5,603 L127.5,603 L123.5,616.5 Q103.4,611.5 83.5,616.5 Z" fill="#a8a8a8" stroke="#777" stroke-width="0.6"/>
  <path d="M75.5,603.5 L75.5,598.5 L77,598.5 L77,600 L78.5,600 L78.5,598.5 L80,598.5 L80,600 L81.5,600 L81.5,598.5 L83.5,598.5 L83.5,604.5 Z" fill="#a8a8a8" stroke="#777" stroke-width="0.5"/>
  <path d="M123.5,604.5 L123.5,598.5 L125,598.5 L125,600 L126.5,600 L126.5,598.5 L128,598.5 L128,600 L129.5,600 L129.5,598.5 L131,598.5 L131,603.5 Z" fill="#a8a8a8" stroke="#777" stroke-width="0.5"/>
  <path d="M86,604 L86,595 L88.5,595 L88.5,596.5 L91,596.5 L91,595 L93.5,595 L93.5,596.5 L96,596.5 L96,595 L99.5,595 L99.5,604 Z" fill="#a8a8a8" stroke="#777" stroke-width="0.5"/>
  <path d="M106.5,604 L106.5,595 L109,595 L109,596.5 L111.5,596.5 L111.5,595 L114,595 L114,596.5 L116.5,596.5 L116.5,595 L119.5,595 L119.5,604 Z" fill="#a8a8a8" stroke="#777" stroke-width="0.5"/>
  <path d="M91.5,609 L91.5,602.5 Q93,600.5 94.5,602.5 L94.5,609 Z" fill="#3e3e3e"/>
  <path d="M111.5,609 L111.5,602.5 Q113,600.5 114.5,602.5 L114.5,609 Z" fill="#3e3e3e"/>
  <path d="M83,613.5 Q103.4,609 123.5,613.5 L123,617.5 Q103.4,614 83.5,617.5 Z" fill="#fafafa" stroke="#999" stroke-width="0.4"/>
  <path d="M83.4,616.5 Q103.4,613.5 122.8,616.5 L122.8,647 Q122.8,662.5 103.4,662.5 Q83.4,662.5 83.4,647 Z" fill="#c5202a" stroke="#8a8a8a" stroke-width="0.6"/>
  <path d="M84.8,629 Q88.5,638 93.5,631 Q89,634.5 84.8,629 Z" fill="#f2f2f2"/>
  <path d="M112.5,631 Q117.5,638 121.2,629 Q117,634.5 112.5,631 Z" fill="#f2f2f2"/>
  <path d="M93.5,619.8 L95.5,619.8 L95.5,621 L97.5,621 L97.5,619.8 L99.5,619.8 L99.5,621 L101.5,621 L101.5,619.8 L103.5,619.8 L103.5,621 L105.5,621 L105.5,619.8 L107.5,619.8 L107.5,621 L109.5,621 L109.5,619.8 L112.6,619.8 L112.6,624.4 L110.6,624.4 L110.6,642.8 L113.9,642.8 L113.9,656.6 L92.2,656.6 L92.2,642.8 L95.5,642.8 L95.5,624.4 L93.5,624.4 Z" fill="#d6cd86"/>
  <path d="M100,656.6 L100,651.5 Q102.7,648 105.4,651.5 L105.4,656.6 Z" fill="#c5202a"/>
  <path d="M101.6,629.5 h2.4 v4 h4 v2.4 h-4 v4 h-2.4 v-4 h-4 v-2.4 h4 Z" fill="#3f9a45"/>
</g>
<g id="pc">
  <circle cx="201.4" cy="634.8" r="38.2" fill="#1c529b"/>
  <circle cx="201.4" cy="634.7" r="28.2" fill="#f4f4f4"/>
  <circle cx="201.4" cy="634.7" r="27.2" fill="#e48a37"/>
  <path d="M200.8,609 L179.2,647.8 L222.5,647.8 Z" fill="#1c529b" stroke="#f4f4f4" stroke-width="1.6" stroke-linejoin="miter"/>
  <path id="pcarc" d="M171.8,626.3 A30.8,30.8 0 0 1 231,626.3" fill="none"/>
  <text font-size="7.9" font-weight="bold" fill="#fff"><textPath href="#pcarc" startOffset="50%" text-anchor="middle" textLength="78" lengthAdjust="spacing">PROTEÇÃO CIVIL</textPath></text>
  <text x="200.8" y="668.2" font-size="8.0" font-weight="bold" fill="#fff" text-anchor="middle" textLength="30.6" lengthAdjust="spacing">MAFRA</text>
</g>

</svg></body></html>
